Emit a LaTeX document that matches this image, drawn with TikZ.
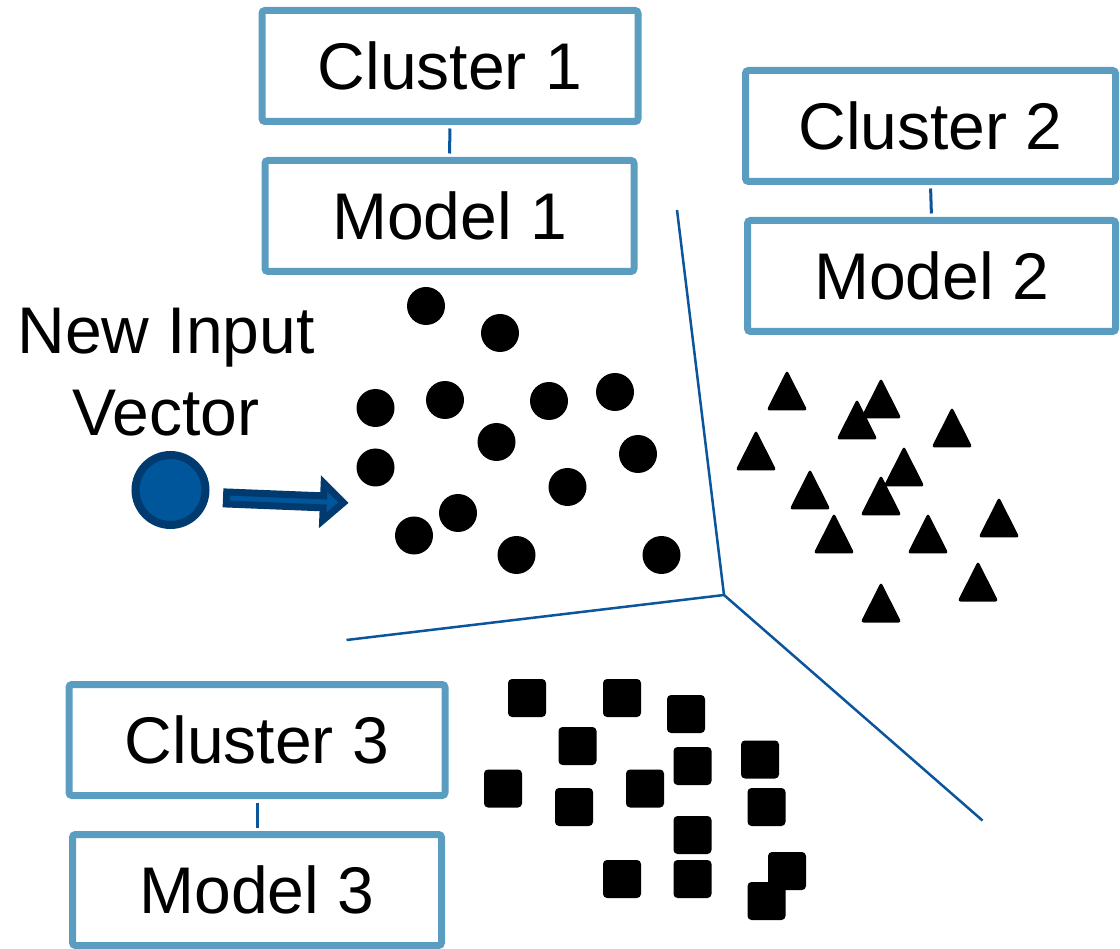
\documentclass[tikz,border=0pt]{standalone}
\usepackage{fontspec}
\setmainfont{Liberation Sans}
\usetikzlibrary{positioning}
\definecolor{boxblue}{RGB}{91,157,192}
\definecolor{lineblue}{RGB}{10,85,155}
\definecolor{arrowdark}{RGB}{0,58,110}
\definecolor{arrowfill}{RGB}{0,86,155}

\begin{document}
\begin{tikzpicture}[x=1pt,y=-1pt,
        tagbox/.style={draw=boxblue,line width=7pt,rounded corners=3pt,fill=white,inner sep=0pt,minimum height=111pt,font=\fontsize{66}{82}\selectfont},
        dot/.style={circle,fill=black,inner sep=0pt,minimum size=38pt},
        sq/.style={rectangle,fill=black,rounded corners=4pt,inner sep=0pt,minimum size=38pt},
        tri/.pic={\fill[black,rounded corners=3pt] (-20.5,19.5) -- (0,-21) -- (20.5,19.5) -- cycle;},
        divider/.style={lineblue,line width=2.5pt},
        link/.style={lineblue,line width=3pt,shorten <=3.5pt,shorten >=3.5pt}]
        \useasboundingbox (0,0) rectangle (1120,949);
        % cluster and model boxes
        \node[tagbox,minimum width=376pt] (C1) at (450,66) {Cluster 1};
        \node[tagbox,minimum width=369pt] (M1) at (449.5,216) {Model 1};
        \node[tagbox,minimum width=370pt] (C2) at (930.5,126) {Cluster 2};
        \node[tagbox,minimum width=368pt] (M2) at (931.5,276) {Model 2};
        \node[tagbox,minimum width=376pt] (C3) at (257,740) {Cluster 3};
        \node[tagbox,minimum width=369pt] (M3) at (257,890) {Model 3};
        \draw[link] (C1.south) -- (M1.north);
        \draw[link] (C2.south) -- (M2.north);
        \draw[link] (C3.south) -- (M3.north);
        % borders between the clusters
        \coordinate (J) at (724,595);
        \coordinate (T) at (677,210);
        \coordinate (L) at (346.5,640);
        \coordinate (R) at (982.5,820.5);
        \draw[divider] (T) -- (J) -- (L);
        \draw[divider] (J) -- (R);
        % new input
        \node[font=\fontsize{66}{82}\selectfont,align=center,inner sep=0pt] (N) at (166,372) {New Input\\Vector};
        \node[circle,draw=arrowdark,fill=arrowfill,line width=8pt,minimum size=70pt,inner sep=0pt] (V) at (170.5,490) {};
        \begin{scope}[shift={(226.5,498)},rotate=-2.3]
            \draw[arrowdark,fill=arrowfill,line width=7pt,line join=miter] (0,-6) -- (97,-6) -- (97,-18.5) -- (117,0) -- (97,18.5) -- (97,6) -- (0,6) -- cycle;
        \end{scope}
        % cluster 1: dots
        \node[dot] (d1) at (426,306) {};
        \node[dot] (d2) at (500,333) {};
        \node[dot] (d3) at (375.5,408) {};
        \node[dot] (d4) at (445,400) {};
        \node[dot] (d5) at (549,401) {};
        \node[dot] (d6) at (615,392) {};
        \node[dot] (d7) at (496.5,442) {};
        \node[dot] (d8) at (638,454) {};
        \node[dot] (d9) at (375.5,467.5) {};
        \node[dot] (d10) at (567.5,487) {};
        \node[dot] (d11) at (458,513) {};
        \node[dot] (d12) at (414,535.5) {};
        \node[dot] (d13) at (516.5,555) {};
        \node[dot] (d14) at (661.5,555) {};
        % cluster 2: triangles
        \pic (t1) at (787,391) {tri};
        \pic (t2) at (881,399) {tri};
        \pic (t3) at (857,420) {tri};
        \pic (t4) at (952,428) {tri};
        \pic (t5) at (756,451) {tri};
        \pic (t6) at (904,467) {tri};
        \pic (t7) at (810,490) {tri};
        \pic (t8) at (881,496) {tri};
        \pic (t9) at (999,518) {tri};
        \pic (t10) at (834,534) {tri};
        \pic (t11) at (928,534) {tri};
        \pic (t12) at (978,582) {tri};
        \pic (t13) at (881,603) {tri};
        % cluster 3: squares
        \node[sq] (s1) at (527,698) {};
        \node[sq] (s2) at (622,698) {};
        \node[sq] (s3) at (686,714) {};
        \node[sq] (s4) at (577.5,746) {};
        \node[sq] (s5) at (692.5,766) {};
        \node[sq] (s6) at (760,759.5) {};
        \node[sq] (s7) at (503,788.5) {};
        \node[sq] (s8) at (645,788.5) {};
        \node[sq] (s9) at (574,807) {};
        \node[sq] (s10) at (766.5,807) {};
        \node[sq] (s11) at (692.5,835) {};
        \node[sq] (s12) at (622,879) {};
        \node[sq] (s13) at (692.5,879) {};
        \node[sq] (s14) at (787,871) {};
        \node[sq] (s15) at (766.5,901) {};
\end{tikzpicture}
\end{document}
